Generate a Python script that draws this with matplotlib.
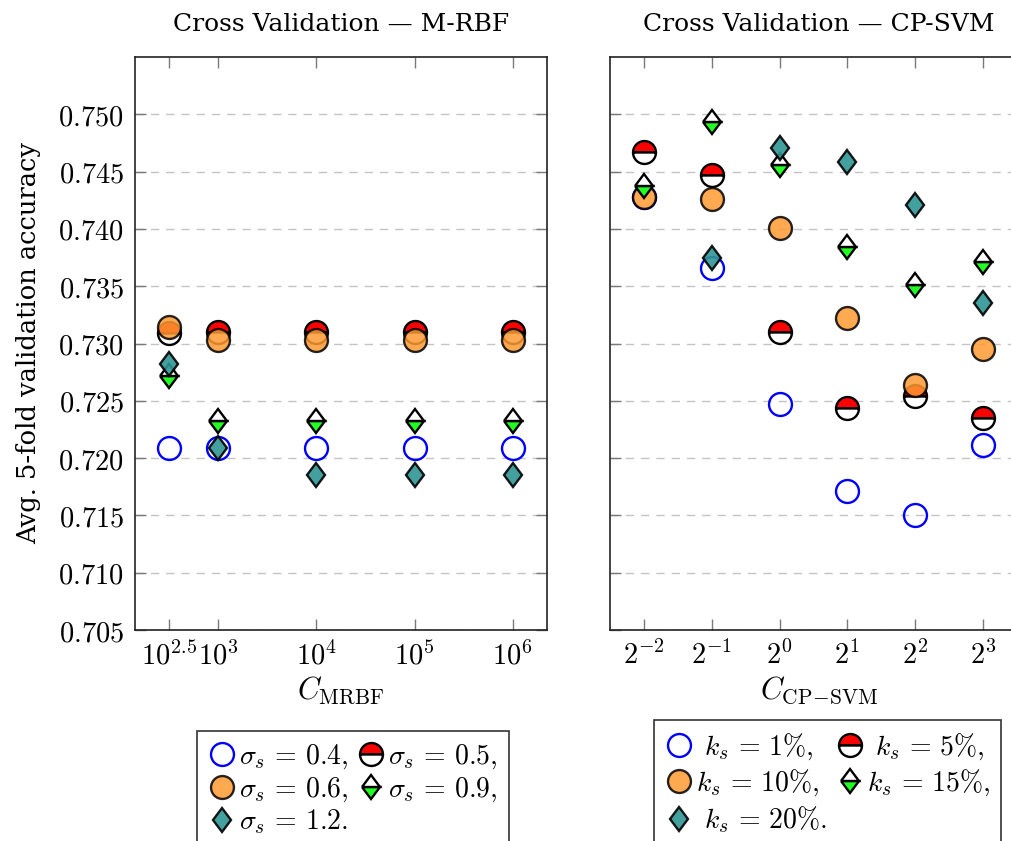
import numpy as np
import matplotlib
matplotlib.use("Agg")
import matplotlib.pyplot as plt
from matplotlib.lines import Line2D
from matplotlib.markers import MarkerStyle
from matplotlib.transforms import Affine2D
from matplotlib.ticker import FixedLocator, NullLocator

plt.rcParams['mathtext.fontset'] = 'cm'

# ---------------- data ----------------
c_mrbf = [10**2.5, 10**3, 10**4, 10**5, 10**6]
c_mrbf_labels = [r'$10^{2.5}$', r'$10^{3}$', r'$10^{4}$', r'$10^{5}$', r'$10^{6}$']
sigma_labels = [r'$\sigma_s\,=\,0.4,$', r'$\sigma_s\,=\,0.5,$', r'$\sigma_s\,=\,0.6,$',
                r'$\sigma_s\,=\,0.9,$', r'$\sigma_s\,=\,1.2.$']
mrbf_s04 = [0.7209, 0.7209, 0.7209, 0.7209, 0.7209]
mrbf_s05 = [0.7309, 0.7310, 0.7310, 0.7310, 0.7310]
mrbf_s06 = [0.7314, 0.7303, 0.7303, 0.7303, 0.7303]
mrbf_s09 = [0.7272, 0.7232, 0.7232, 0.7232, 0.7232]
mrbf_s12 = [0.7282, 0.7209, 0.7185, 0.7185, 0.7185]

c_svm = [2**-2, 2**-1, 2**0, 2**1, 2**2, 2**3]
c_svm_labels = [r'$2^{-2}$', r'$2^{-1}$', r'$2^{0}$', r'$2^{1}$', r'$2^{2}$', r'$2^{3}$']
k_labels = [r'$\ k_s\,=\,1\%,$', r'$\ k_s\,=\,5\%,$', r'$k_s\,=\,10\%,$',
            r'$k_s\,=\,15\%,$', r'$\ k_s\,=\,20\%.$']
svm_k01 = [0.7428, 0.7366, 0.7247, 0.7171, 0.7150, 0.7211]
svm_k05 = [0.7467, 0.7447, 0.7310, 0.7244, 0.7254, 0.7235]
svm_k10 = [0.7428, 0.7426, 0.7401, 0.7322, 0.7264, 0.7295]
svm_k15 = [0.7437, 0.7493, 0.7456, 0.7384, 0.7351, 0.7371]
svm_k20 = [np.nan, 0.7375, 0.7471, 0.7458, 0.7421, 0.7335]

yticks = [0.705, 0.710, 0.715, 0.720, 0.725, 0.730, 0.735, 0.740, 0.745, 0.750]

# ---------------- styles ----------------
diamond_half = MarkerStyle('D', fillstyle='bottom', transform=Affine2D().scale(0.78, 1.0))
diamond_full = MarkerStyle('D', fillstyle='full', transform=Affine2D().scale(0.78, 1.0))

styles = [
    dict(marker='o', markersize=16.5, markerfacecolor='none', markeredgecolor='#0000ff',
         markeredgewidth=1.7),
    dict(marker='o', markersize=16.5, markerfacecolor='#ff0000', markerfacecoloralt='white',
         fillstyle='top', markeredgecolor='black', markeredgewidth=1.7),
    dict(marker='o', markersize=16.5, markerfacecolor='#ff9a33', markeredgecolor='black',
         markeredgewidth=1.7, alpha=0.85),
    dict(marker=diamond_half, markersize=11.8, markerfacecolor='#22ff22',
         markerfacecoloralt='white', markeredgecolor='black', markeredgewidth=1.7),
    dict(marker=diamond_full, markersize=11.8, markerfacecolor='#2f9595',
         markeredgecolor='black', markeredgewidth=1.7, alpha=0.9),
]

fig = plt.figure(figsize=(10.11, 8.41), dpi=100)
axL = fig.add_axes([135/1011, 1-630/841, 412/1011, 573/841])
axR = fig.add_axes([610/1011, 1-630/841, 418/1011, 573/841])

title_font = dict(family='DejaVu Serif', fontsize=18)

def style_axes(ax):
    ax.set_ylim(0.705, 0.755)
    ax.yaxis.set_major_locator(FixedLocator(yticks))
    ax.yaxis.set_minor_locator(NullLocator())
    ax.grid(axis='y', color='#c4c4c4', linestyle=(0, (6, 5)), linewidth=1.0, zorder=0)
    ax.set_axisbelow(True)
    ax.tick_params(direction='in', length=8, width=1, color='#7a7a7a',
                   top=True, right=True, which='major', labelsize=20.5, pad=8)
    for sp in ax.spines.values():
        sp.set_linewidth(1.2)
        sp.set_color('#222222')

# Left
style_axes(axL)
axL.set_xscale('log')
axL.set_xlim(10**2.15, 10**6.35)
axL.set_xticks(c_mrbf)
axL.set_xticklabels(c_mrbf_labels)
axL.xaxis.set_minor_locator(NullLocator())
axL.set_yticklabels([r'$%.3f$' % v for v in yticks])
for ys, st in zip([mrbf_s04, mrbf_s05, mrbf_s06, mrbf_s09, mrbf_s12], styles):
    axL.plot(c_mrbf, ys, linestyle='none', zorder=3, **st)
axL.set_title('Cross Validation — M-RBF', pad=19, **title_font)
axL.set_xlabel(r'$C_{\mathrm{MRBF}}$', fontsize=22, labelpad=3)
axL.set_ylabel('Avg. 5-fold validation accuracy', labelpad=12,
               family='DejaVu Serif', fontsize=18.5)

# Right
style_axes(axR)
axR.set_xscale('log', base=2)
axR.set_xlim(2**-2.5, 2**3.665)
axR.set_xticks(c_svm)
axR.set_xticklabels(c_svm_labels)
axR.xaxis.set_minor_locator(NullLocator())
axR.set_yticklabels([])
for ys, st in zip([svm_k01, svm_k05, svm_k10, svm_k15, svm_k20], styles):
    axR.plot(c_svm, ys, linestyle='none', zorder=3, **st)
axR.set_title('Cross Validation — CP-SVM', pad=19, **title_font)
axR.set_xlabel(r'$C_{\mathrm{CP\!-\!SVM}}$', fontsize=22, labelpad=3)

# Legends (row-wise order in two columns)
def make_legend(labels, anchor, lsp):
    handles = [Line2D([], [], linestyle='none', **st) for st in styles]
    order = [0, 2, 4, 1, 3]
    leg = fig.legend([handles[i] for i in order], [labels[i] for i in order],
                     loc='upper left', bbox_to_anchor=anchor, bbox_transform=fig.transFigure,
                     ncol=2, fontsize=20, frameon=True, fancybox=False, framealpha=1,
                     edgecolor='#333333', borderpad=0.4, handlelength=1.0,
                     handletextpad=0.12, columnspacing=0.3, labelspacing=lsp,
                     borderaxespad=0)
    leg.get_frame().set_linewidth(1.2)
    return leg

make_legend(sigma_labels, (197/1011, 1-731/841), 0.12)
make_legend(k_labels, (654/1011, 1-720/841), 0.22)

fig.savefig('out.png', dpi=100)
